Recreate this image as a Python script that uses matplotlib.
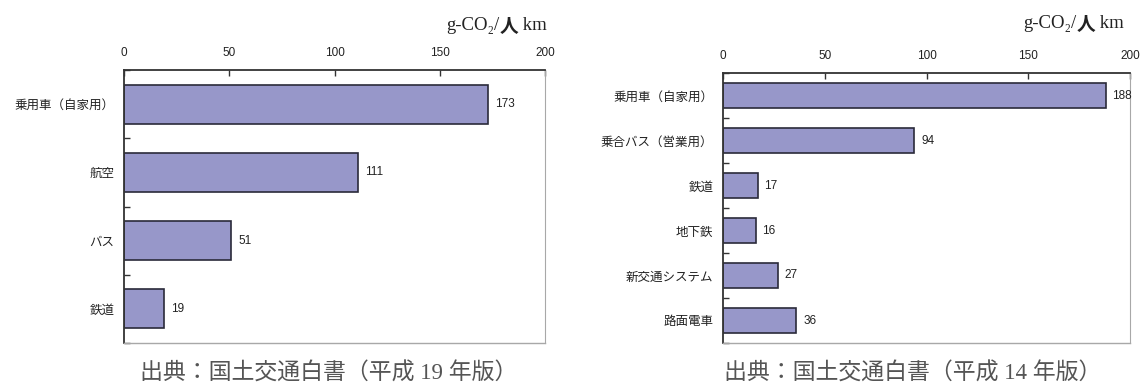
import matplotlib
matplotlib.use("Agg")
import matplotlib.pyplot as plt
from matplotlib import font_manager
import numpy as np

plt.rcParams['font.family'] = ['Noto Sans CJK JP', 'DejaVu Sans']

left_categories = ["乗用車（自家用）", "航空", "バス", "鉄道"]
left_values = [173, 111, 51, 19]
right_categories = ["乗用車（自家用）", "乗合バス（営業用）", "鉄道", "地下鉄", "新交通システム", "路面電車"]
right_values = [188, 94, 17, 16, 27, 36]
x_ticks = [0, 50, 100, 150, 200]
unit_parts = ["g-CO₂/", "人", " km"]
left_source = "出典：国土交通白書（平成 19 年版）"
right_source = "出典：国土交通白書（平成 14 年版）"

W, H = 1141, 389
fig = plt.figure(figsize=(W / 100, H / 100), dpi=100)

bar_color = "#9797c9"
edge_color = "#2a2a3a"
dark = "#333333"
light = "#a8a8a8"

names = {f.name for f in font_manager.fontManager.ttflist}
num_fam = ['Liberation Sans Narrow'] if 'Liberation Sans Narrow' in names else ['Liberation Sans']
num_size = 10 if 'Liberation Sans Narrow' in names else 8.5


def draw(rect, cats, vals):
    ax = fig.add_axes(rect)
    n = len(cats)
    y = np.arange(n)
    ax.barh(y, vals, height=0.57, color=bar_color, edgecolor=edge_color, linewidth=1.2)
    ax.set_xlim(0, 200)
    ax.set_ylim(n - 0.5, -0.5)
    ax.xaxis.tick_top()
    ax.set_xticks(x_ticks)
    ax.set_xticklabels([str(t) for t in x_ticks], fontsize=num_size, color="#222222", family=num_fam)
    ax.tick_params(axis='x', direction='in', length=4, width=1, color=dark, pad=8)
    ax.set_yticks(y)
    ax.set_yticklabels(cats, fontsize=9, color="#222222")
    ax.tick_params(axis='y', which='major', length=0, pad=7)
    ax.set_yticks(np.arange(n + 1) - 0.5, minor=True)
    ax.tick_params(axis='y', which='minor', direction='in', length=4, width=1, color=dark)
    ax.spines['left'].set_color(dark)
    ax.spines['top'].set_color(dark)
    ax.spines['left'].set_linewidth(1.3)
    ax.spines['top'].set_linewidth(1.3)
    ax.spines['right'].set_color(light)
    ax.spines['bottom'].set_color(light)
    ax.spines['bottom'].set_linewidth(1.0)
    for yi, v in zip(y, vals):
        ax.annotate(str(v), (v, yi), xytext=(5, 0), textcoords='offset points',
                    va='center', ha='left', fontsize=num_size, color="#222222", family=num_fam)
    return ax


axL = draw([124 / W, 1 - 343 / H, (545 - 124) / W, (343 - 70) / H], left_categories, left_values)
axR = draw([723 / W, 1 - 343 / H, (1130 - 723) / W, (343 - 73) / H], right_categories, right_values)

serif_fam = ['Liberation Serif', 'Noto Sans CJK JP']
renderer = fig.canvas.get_renderer()


def unit_label(x_right, y_center):
    styles = [dict(fontsize=13.5, family=serif_fam, fontweight='normal'),
              dict(fontsize=13.5, family=['Noto Sans CJK JP'], fontweight='bold'),
              dict(fontsize=13.5, family=serif_fam, fontweight='normal')]
    x = x_right
    for part, st in reversed(list(zip(unit_parts, styles))):
        t = fig.text(x / W, 1 - y_center / H, part, ha='right', va='center',
                     color="#222222", **st)
        bb = t.get_window_extent(renderer)
        x -= bb.width


unit_label(547, 26)
unit_label(1124, 24)

fig.text((140 + 517) / 2 / W, 1 - 374 / H, left_source, ha='center', va='center',
         fontsize=16.5, family=serif_fam, color="#555555")
fig.text((739 + 1086) / 2 / W, 1 - 374 / H, right_source, ha='center', va='center',
         fontsize=16.5, family=serif_fam, color="#555555")

fig.savefig("out.png", dpi=100)
